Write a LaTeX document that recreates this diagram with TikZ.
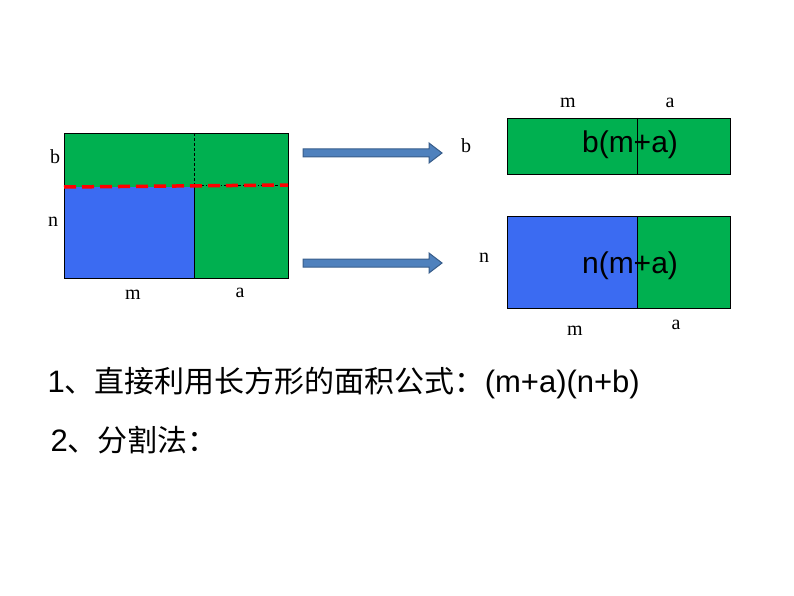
\documentclass[tikz,border=0pt]{standalone}
\usepackage{fontspec}
\setmainfont{Liberation Serif}
\newfontfamily\cjk{Noto Sans CJK SC}
\newfontfamily\arial{Liberation Sans}
\definecolor{gr}{HTML}{00B050}
\definecolor{bl}{HTML}{3B6BF2}
\definecolor{arf}{HTML}{4F81BD}
\definecolor{ard}{HTML}{385D8A}
\tikzset{lbl/.style={font=\fontsize{20}{20}\selectfont},
 big/.style={font=\arial\fontsize{30}{30}\selectfont},
 blk/.style={draw=ard,fill=arf,line width=1pt}}
\begin{document}
\begin{tikzpicture}[x=1pt,y=-1pt]
\useasboundingbox (0,0) rectangle (794,596);
% left
\fill[gr] (64,133) rectangle (288,187);
\fill[bl] (64,187) rectangle (194,278);
\fill[gr] (194,187) rectangle (288,278);
\draw[black] (64,133) rectangle (288,278);
\draw[black,thin] (194,187) -- (194,278);
\draw[black,thin,densely dashed] (194,133) -- (194,187);
\draw[black,thin,dash dot] (194,185) -- (288,185);
\draw[red,line width=3.5pt,dash pattern=on 12pt off 6pt] (64,187) -- (288,185);
\node[lbl] (lb) at (55,157) {b};
\node[lbl] (ln) at (53,222) {n};
\node[lbl] (lm) at (133,295) {m};
\node[lbl] (la) at (240,293) {a};
% arrows
\coordinate (a1) at (303,153);
\coordinate (a2) at (303,263);
\foreach \c in {a1,a2}
  \draw[blk] (\c) ++(0,-4) -- ++(126,0) -- ++(0,-6) -- ++(13,10) -- ++(-13,10) -- ++(0,-6) -- ++(-126,0) -- cycle;
% top right
\fill[gr] (507,118) rectangle (730,174);
\draw (507,118) rectangle (730,174);
\draw (637,118) -- (637,174);
\node[big] (t1) at (630,145) {b(m+a)};
\node[lbl] (tm) at (568,103) {m};
\node[lbl] (ta) at (670,103) {a};
\node[lbl] (tb) at (466,146) {b};
% bottom right
\fill[bl] (507,216) rectangle (637,308);
\fill[gr] (637,216) rectangle (730,308);
\draw (507,216) rectangle (730,308);
\draw (637,216) -- (637,308);
\node[big] (t2) at (630,266) {n(m+a)};
\node[lbl] (bn) at (484,258) {n};
\node[lbl] (bm) at (575,331) {m};
\node[lbl] (ba) at (676,325) {a};
% text
\node[anchor=west,font=\arial\fontsize{31}{31}\selectfont] (l1) at (44,383) {1{\cjk\fontsize{30}{30}\selectfont 、直接利用长方形的面积公式：}(m+a)(n+b)};
\node[anchor=west,font=\arial\fontsize{31}{31}\selectfont] (l2) at (47,440) {2{\cjk\fontsize{30}{30}\selectfont 、分割法：}};
\end{tikzpicture}
\end{document}
